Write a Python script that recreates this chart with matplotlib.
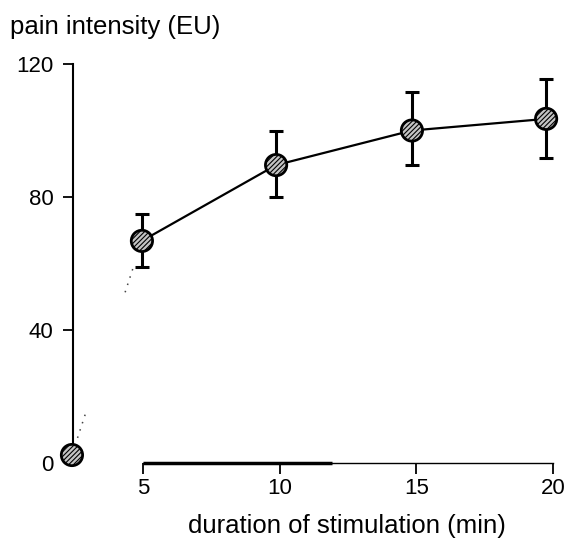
import matplotlib
matplotlib.use("Agg")
import matplotlib.pyplot as plt
import numpy as np

plt.rcParams['font.family'] = ['Liberation Sans', 'DejaVu Sans']

# data
baseline_x = 2.4
baseline_y = 2.4
durations = [4.96, 9.87, 14.84, 19.75]
pain = [66.8, 89.6, 100.0, 103.5]
err_low = [59.0, 80.0, 89.5, 91.7]
err_high = [75.0, 99.8, 111.5, 115.5]
xticks = [5, 10, 15, 20]
yticks = [0, 40, 80, 120]
ylabel = "pain intensity (EU)"
xlabel = "duration of stimulation (min)"

fig = plt.figure(figsize=(5.70, 5.43), dpi=100)
ax = fig.add_axes([40/570, (543-475)/543, 525/570, 420/543])
ax.set_xlim(1.231, 20.441)
ax.set_ylim(-3.609, 122.71)

for s in ['top', 'right']:
    ax.spines[s].set_visible(False)
ax.spines['left'].set_position(('data', 2.44))
ax.spines['left'].set_bounds(3.5, 120)
ax.spines['left'].set_linewidth(1.5)
ax.spines['bottom'].set_position(('data', 0))
ax.spines['bottom'].set_bounds(5, 20)
ax.spines['bottom'].set_linewidth(1.0)
# thicker first part of x axis
ax.plot([5, 11.9], [0, 0], color='black', lw=2.5, solid_capstyle='butt', clip_on=False, zorder=3)

ax.set_xticks(xticks)
ax.set_xticklabels([str(t) for t in xticks])
ax.set_yticks(yticks)
ax.set_yticklabels([str(t) for t in yticks])
ax.tick_params(axis='x', length=8, width=1.3, labelsize=16, pad=3)
ax.tick_params(axis='y', length=7, width=1.3, labelsize=16, pad=7)
ax.yaxis.get_major_ticks()[0].tick1line.set_visible(False)

# dotted break segments between baseline and first point
x0, y0 = baseline_x, baseline_y
x1, y1 = durations[0], pain[0]
for f0, f1 in [(0.08, 0.2), (0.76, 0.87)]:
    ax.plot([x0 + f0*(x1-x0), x0 + f1*(x1-x0)], [y0 + f0*(y1-y0), y0 + f1*(y1-y0)],
            color='#444444', lw=1.1, linestyle=(0, (1, 4)), zorder=2)

yerr = [np.array(pain) - np.array(err_low), np.array(err_high) - np.array(pain)]
ax.errorbar(durations, pain, yerr=yerr, fmt='none', ecolor='black', elinewidth=2.2,
            capsize=5, capthick=2.2, zorder=3)
ax.plot(durations, pain, color='black', lw=1.6, zorder=4)

plt.rcParams['hatch.linewidth'] = 0.8
ax.scatter(durations + [baseline_x], pain + [baseline_y], s=235, facecolor='#c4c4c4',
           edgecolor='black', linewidths=2.0, hatch='///////', zorder=5, clip_on=False)

fig.text(10/570, 1 - 27/543, ylabel, fontsize=18.5, ha='left', va='center')
fig.text(347/570, 1 - 526/543, xlabel, fontsize=18.5, ha='center', va='center')

fig.savefig('out.png', dpi=100)
